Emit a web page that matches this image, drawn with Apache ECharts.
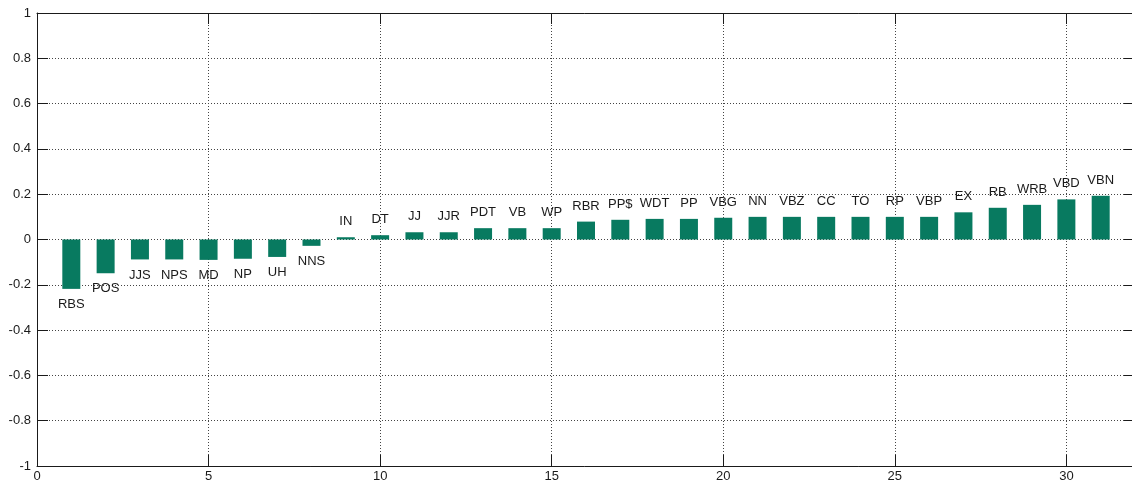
<!DOCTYPE html>
<html>
<head>
<meta charset="utf-8">
<script src="https://cdn.jsdelivr.net/npm/echarts@6/dist/echarts.min.js"></script>
<style>
  html, body { margin: 0; padding: 0; background: #fff; }
  #chart { width: 1132px; height: 483px; }
</style>
</head>
<body>
<div id="chart"></div>
<script>
// Part-of-speech tags, sorted by score
const tags = ['RBS', 'POS', 'JJS', 'NPS', 'MD', 'NP', 'UH', 'NNS', 'IN', 'DT', 'JJ', 'JJR', 'PDT', 'VB', 'WP',
  'RBR', 'PP$', 'WDT', 'PP', 'VBG', 'NN', 'VBZ', 'CC', 'TO', 'RP', 'VBP', 'EX', 'RB', 'WRB', 'VBD', 'VBN'];
const scores = [-0.218, -0.149, -0.088, -0.088, -0.090, -0.085, -0.077, -0.028, 0.010, 0.019, 0.032, 0.032, 0.050, 0.050, 0.050,
  0.079, 0.087, 0.091, 0.091, 0.096, 0.100, 0.100, 0.100, 0.100, 0.100, 0.100, 0.120, 0.140, 0.153, 0.177, 0.193];
const xTicks = [0, 5, 10, 15, 20, 25, 30];
const yTicks = [-1, -0.8, -0.6, -0.4, -0.2, 0, 0.2, 0.4, 0.6, 0.8, 1];

const FONT = 'Liberation Sans, Arial, sans-serif';
const INK = '#1a1a1a';
const dotted = { color: '#444', width: 1, type: [1, 2] };

const barData = scores.map((v, i) => ({
  value: [i + 1, v],
  name: tags[i],
  label: { position: v < 0 ? 'bottom' : 'top' }
}));

const chart = echarts.init(document.getElementById('chart'), null, { renderer: 'canvas' });

const boxAxisLine = { show: true, onZero: false, lineStyle: { color: INK, width: 1 } };
const inTick = { show: true, inside: true, length: 11, lineStyle: { color: INK } };

chart.setOption({
  animation: false,
  backgroundColor: '#fff',
  // the plot box runs a few pixels past the right edge of the canvas
  grid: { left: 37, top: 13, right: -3, bottom: 17, containLabel: false, outerBoundsMode: 'none' },
  xAxis: [
    {
      type: 'value', min: xTicks[0], max: 32, interval: 5, position: 'bottom',
      axisLine: boxAxisLine, axisTick: inTick,
      axisLabel: {
        color: INK, fontFamily: FONT, fontSize: 13, margin: 4, showMaxLabel: false,
        formatter: v => (xTicks.indexOf(v) >= 0 ? String(v) : '')
      },
      splitLine: { show: true, lineStyle: dotted }
    },
    {
      type: 'value', min: xTicks[0], max: 32, interval: 5, position: 'top',
      axisLine: boxAxisLine, axisTick: inTick, axisLabel: { show: false }, splitLine: { show: false }
    }
  ],
  yAxis: [
    {
      type: 'value', min: yTicks[0], max: yTicks[yTicks.length - 1], interval: 0.2, position: 'left',
      axisLine: boxAxisLine, axisTick: inTick,
      axisLabel: {
        color: INK, fontFamily: FONT, fontSize: 13, margin: 6,
        formatter: v => {
          const r = Math.round(v * 10) / 10;
          return r === 0 ? '0' : String(r);
        }
      },
      splitLine: { show: true, lineStyle: dotted }
    },
    {
      type: 'value', min: yTicks[0], max: yTicks[yTicks.length - 1], interval: 0.2, position: 'right',
      axisLine: boxAxisLine, axisTick: inTick, axisLabel: { show: false }, splitLine: { show: false }
    }
  ],
  series: [{
    type: 'bar',
    xAxisIndex: 0,
    yAxisIndex: 0,
    barWidth: 18,
    data: barData,
    itemStyle: { color: '#087a60' },
    label: {
      show: true,
      distance: 9,
      color: INK,
      fontFamily: FONT,
      fontSize: 13,
      formatter: p => p.name
    }
  }]
});
</script>
</body>
</html>
